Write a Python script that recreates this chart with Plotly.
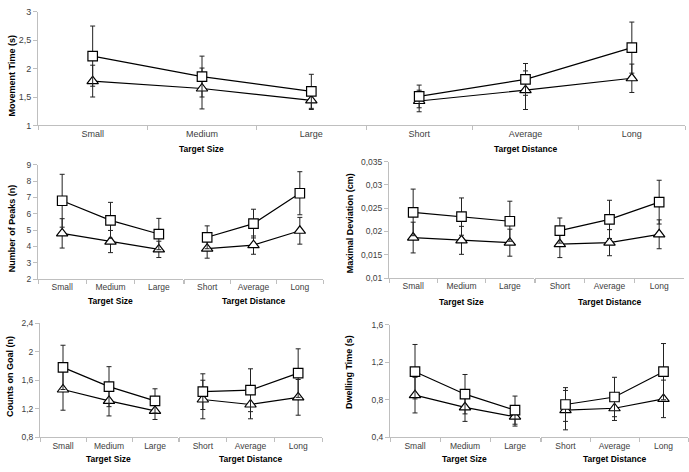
import plotly.graph_objects as go

W, H = 689, 472

size_cats = ["Small", "Medium", "Large"]
dist_cats = ["Short", "Average", "Long"]

# Movement Time (s)
mt_sq_size = [2.22, 1.86, 1.60]
mt_sq_size_err = [0.53, 0.36, 0.30]
mt_tr_size = [1.78, 1.65, 1.44]
mt_tr_size_err = [0.28, 0.36, 0.16]
mt_sq_dist = [1.51, 1.81, 2.37]
mt_sq_dist_err = [0.20, 0.28, 0.45]
mt_tr_dist = [1.43, 1.62, 1.83]
mt_tr_dist_err = [0.19, 0.34, 0.25]

# Number of Peaks (n)
pk_sq_size = [6.80, 5.60, 4.76]
pk_sq_size_err = [1.62, 1.10, 0.96]
pk_tr_size = [4.80, 4.30, 3.82]
pk_tr_size_err = [0.90, 0.68, 0.50]
pk_sq_dist = [4.56, 5.40, 7.26]
pk_sq_dist_err = [0.70, 0.88, 1.32]
pk_tr_dist = [3.86, 4.08, 4.96]
pk_tr_dist_err = [0.58, 0.56, 0.82]

# Maximal Deviation (cm)
md_sq_size = [0.0241, 0.0232, 0.0222]
md_sq_size_err = [0.0050, 0.0040, 0.0043]
md_tr_size = [0.0187, 0.0181, 0.0176]
md_tr_size_err = [0.0033, 0.0030, 0.0029]
md_sq_dist = [0.0202, 0.0226, 0.0263]
md_sq_dist_err = [0.0027, 0.0041, 0.0047]
md_tr_dist = [0.0173, 0.0176, 0.0194]
md_tr_dist_err = [0.0029, 0.0028, 0.0031]

# Counts on Goal (n)
cg_sq_size = [1.78, 1.51, 1.31]
cg_sq_size_err = [0.31, 0.28, 0.17]
cg_tr_size = [1.47, 1.31, 1.17]
cg_tr_size_err = [0.29, 0.21, 0.12]
cg_sq_dist = [1.44, 1.46, 1.70]
cg_sq_dist_err = [0.25, 0.30, 0.34]
cg_tr_dist = [1.33, 1.26, 1.36]
cg_tr_dist_err = [0.27, 0.20, 0.25]

# Dwelling Time (s)
dt_sq_size = [1.10, 0.86, 0.69]
dt_sq_size_err = [0.29, 0.21, 0.15]
dt_tr_size = [0.85, 0.72, 0.62]
dt_tr_size_err = [0.19, 0.15, 0.10]
dt_sq_dist = [0.75, 0.83, 1.10]
dt_sq_dist_err = [0.18, 0.21, 0.30]
dt_tr_dist = [0.69, 0.71, 0.81]
dt_tr_dist_err = [0.21, 0.13, 0.20]

panels = [
    dict(title="Movement Time (s)", rng=[1, 3], dtick=0.5,
         xl=[38, 366], xr=[366, 685], yp=[7, 123], tfs=9,
         ytitle_xy=(12, 73), ttl_y=147,
         data=[(mt_sq_size, mt_sq_size_err, mt_tr_size, mt_tr_size_err),
               (mt_sq_dist, mt_sq_dist_err, mt_tr_dist, mt_tr_dist_err)]),
    dict(title="Number of Peaks (n)", rng=[2, 9], dtick=1,
         xl=[38, 183], xr=[184, 323], yp=[163.3, 280], tfs=8.5,
         ytitle_xy=(12, 228), ttl_y=302,
         data=[(pk_sq_size, pk_sq_size_err, pk_tr_size, pk_tr_size_err),
               (pk_sq_dist, pk_sq_dist_err, pk_tr_dist, pk_tr_dist_err)]),
    dict(title="Maximal Deviation (cm)", rng=[0.01, 0.035], dtick=0.005,
         xl=[389, 534], xr=[535, 684], yp=[160, 279], tfs=8.5,
         ytitle_xy=(350, 223), ttl_y=303,
         data=[(md_sq_size, md_sq_size_err, md_tr_size, md_tr_size_err),
               (md_sq_dist, md_sq_dist_err, md_tr_dist, md_tr_dist_err)]),
    dict(title="Counts on Goal (n)", rng=[0.8, 2.4], dtick=0.4,
         xl=[40, 178], xr=[179, 322], yp=[325, 441.7], tfs=8.5,
         ytitle_xy=(10, 380), ttl_y=464,
         data=[(cg_sq_size, cg_sq_size_err, cg_tr_size, cg_tr_size_err),
               (cg_sq_dist, cg_sq_dist_err, cg_tr_dist, cg_tr_dist_err)]),
    dict(title="Dwelling Time (s)", rng=[0.4, 1.6], dtick=0.4,
         xl=[390, 540], xr=[541, 688], yp=[326.7, 441.7], tfs=8.5,
         ytitle_xy=(349, 375), ttl_y=464,
         data=[(dt_sq_size, dt_sq_size_err, dt_tr_size, dt_tr_size_err),
               (dt_sq_dist, dt_sq_dist_err, dt_tr_dist, dt_tr_dist_err)]),
]


def px(x):
    return x / W


def py(y):
    return 1 - y / H


FONT = "Liberation Sans, Arial, sans-serif"
AXIS_COL = "#bfbfbf"
TICK_COL = "#404040"

fig = go.Figure()
layout = dict(
    width=W, height=H, margin=dict(l=0, r=0, t=0, b=0),
    paper_bgcolor="white", plot_bgcolor="white", showlegend=False,
    separators=", ", font=dict(family=FONT, color=TICK_COL),
)
annotations = []

ax = 0
for p in panels:
    for side, (cats, xd, ttl) in enumerate([(size_cats, p["xl"], "Target Size"),
                                            (dist_cats, p["xr"], "Target Distance")]):
        ax += 1
        xa = "x" if ax == 1 else f"x{ax}"
        ya = "y" if ax == 1 else f"y{ax}"
        sq, sqe, tr, tre = p["data"][side]
        err_style = dict(type="data", visible=True, color="#222222", thickness=1, width=2.5)
        fig.add_trace(go.Scatter(
            x=cats, y=tr, xaxis=xa, yaxis=ya, mode="lines+markers",
            line=dict(color="black", width=1.2),
            marker=dict(symbol="triangle-up", size=10, color="white",
                        line=dict(color="black", width=1.2)),
            error_y=dict(array=tre, **err_style), cliponaxis=False))
        fig.add_trace(go.Scatter(
            x=cats, y=sq, xaxis=xa, yaxis=ya, mode="lines+markers",
            line=dict(color="black", width=1.2),
            marker=dict(symbol="square", size=9.5, color="white",
                        line=dict(color="black", width=1.2)),
            error_y=dict(array=sqe, **err_style), cliponaxis=False))
        key = "" if ax == 1 else str(ax)
        layout["xaxis" + key] = dict(
            domain=[px(xd[0]), px(xd[1])], anchor=ya, type="category",
            range=[-0.5, 2.5], tickson="boundaries", ticks="outside",
            ticklen=4, tickcolor=AXIS_COL, showline=True, linecolor=AXIS_COL,
            linewidth=1, showgrid=False, zeroline=False, fixedrange=True,
            tickfont=dict(family=FONT, size=p["tfs"], color=TICK_COL))
        ydom = [py(p["yp"][1]), py(p["yp"][0])]
        if side == 0:
            layout["yaxis" + key] = dict(
                domain=ydom, anchor=xa, range=p["rng"], dtick=p["dtick"],
                tick0=p["rng"][0], ticks="outside", ticklen=4, tickcolor=AXIS_COL,
                showline=True, linecolor=AXIS_COL, linewidth=1, showgrid=False,
                zeroline=False, fixedrange=True,
                tickfont=dict(family=FONT, size=p["tfs"], color=TICK_COL))
        else:
            layout["yaxis" + key] = dict(
                domain=ydom, anchor=xa, range=p["rng"], showline=False,
                showticklabels=False, ticks="", showgrid=False, zeroline=False,
                fixedrange=True)
        annotations.append(dict(
            text=f"<b>{ttl}</b>", x=px((xd[0] + xd[1]) / 2), y=py(p["ttl_y"]),
            xref="paper", yref="paper", showarrow=False, xanchor="center",
            yanchor="middle", font=dict(family=FONT, size=8.5, color="black")))
    tx, ty = p["ytitle_xy"]
    annotations.append(dict(
        text=f"<b>{p['title']}</b>", x=px(tx), y=py(ty), xref="paper", yref="paper",
        showarrow=False, textangle=-90, xanchor="center", yanchor="middle",
        font=dict(family=FONT, size=9, color="black")))

layout["annotations"] = annotations
fig.update_layout(**layout)
fig.write_html(
    "out.html",
    config={"displayModeBar": False},
    post_script="document.body.style.margin='0';document.body.style.padding='0';",
)
